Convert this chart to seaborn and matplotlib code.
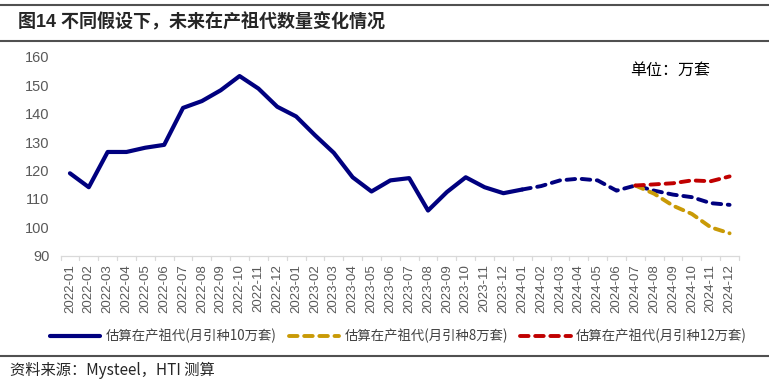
import numpy as np
import pandas as pd
import matplotlib
matplotlib.use("Agg")
import matplotlib.pyplot as plt
from matplotlib.lines import Line2D
import seaborn as sns

months = [f"{y}-{m:02d}" for y in (2022, 2023, 2024) for m in range(1, 13)]

actual = [119, 114.1, 126.5, 126.5, 128, 129, 142, 144.4, 148.2, 153.2, 148.8, 142.4,
          139, 132.4, 126.2, 117.6, 112.6, 116.5, 117.3, 105.9, 112.4, 117.6, 114.1, 112,
          113.3]
est10 = [113.3, 114.5, 116.5, 117.1, 116.5, 112.9, 114.7, 112.9, 111.5, 110.6, 108.5, 107.9]
est8 = [114.7, 111.8, 107.6, 104.7, 100.0, 97.9]
est12 = [114.7, 115.1, 115.5, 116.5, 116.2, 117.9]

lab10 = "估算在产祖代(月引种10万套)"
lab8 = "估算在产祖代(月引种8万套)"
lab12 = "估算在产祖代(月引种12万套)"

n = len(months)
s_actual = pd.Series(actual + [np.nan] * (n - len(actual)))
s10 = pd.Series([np.nan] * (n - len(est10)) + est10)
s8 = pd.Series([np.nan] * (n - len(est8)) + est8)
s12 = pd.Series([np.nan] * (n - len(est12)) + est12)
idx = np.arange(n)

sns.set_style("white")
plt.rcParams['font.family'] = ['Liberation Sans', 'Noto Sans CJK SC', 'DejaVu Sans']

fig = plt.figure(figsize=(7.69, 3.84), dpi=100)
ax = fig.add_axes([0.0787, 0.334, 0.961 - 0.0787, 0.8523 - 0.334])

navy = "#00007F"
gold = "#C99A06"
red = "#C00000"

sns.lineplot(x=idx, y=s_actual, ax=ax, color=navy, linewidth=3.0, solid_capstyle='round', solid_joinstyle='round')
sns.lineplot(x=idx, y=s10, ax=ax, color=navy, linewidth=2.8)
sns.lineplot(x=idx, y=s8, ax=ax, color=gold, linewidth=2.8)
sns.lineplot(x=idx, y=s12, ax=ax, color=red, linewidth=2.8)
lines = ax.get_lines()
for ln in lines[1:4]:
    ln.set_linestyle((0, (2.2, 1.7)))
    ln.set_dash_capstyle('round')
lines[2].set_zorder(3)
lines[3].set_zorder(4)

ax.set_xlim(-0.5, n - 0.5)
ax.set_ylim(90, 160)
ax.set_yticks(range(90, 161, 10))
ax.set_xticks(idx)
ax.set_xticklabels(months, rotation=90, fontsize=9.5, color="#595959")
ax.tick_params(axis='x', length=0, pad=6)
ax.tick_params(axis='y', length=0, labelsize=10.5, labelcolor="#595959", pad=8)
for t in np.arange(-0.5, n, 1):
    ax.plot([t, t], [90, 88.6], color="#D9D9D9", lw=0.9, clip_on=False)
ax.set_xlabel("")
ax.set_ylabel("")
for sp in ['top', 'right', 'left']:
    ax.spines[sp].set_visible(False)
ax.spines['bottom'].set_color("#D9D9D9")
ax.spines['bottom'].set_linewidth(0.9)

ax.text(0.958, 0.93, "单位：万套", transform=ax.transAxes, ha='right', va='center',
        fontsize=11.5, family=['Noto Sans CJK SC'], color="#000000")

handles = [
    Line2D([], [], color=navy, lw=3.0, solid_capstyle='round'),
    Line2D([], [], color=gold, lw=2.8, linestyle=(0, (2.2, 1.7)), dash_capstyle='round'),
    Line2D([], [], color=red, lw=2.8, linestyle=(0, (2.2, 1.7)), dash_capstyle='round'),
]
leg = fig.legend(handles, [lab10, lab8, lab12], loc='center', bbox_to_anchor=(0.518, 1 - 336 / 384),
                 ncol=3, frameon=False, handlelength=3.8, columnspacing=0.9, handletextpad=0.4,
                 prop={'family': ['Noto Sans CJK SC'], 'size': 9.6})
for t in leg.get_texts():
    t.set_color("#404040")

fig.text(0.024, 1 - 22 / 384, "图14 不同假设下，未来在产祖代数量变化情况", ha='left', va='center',
         fontsize=13, fontweight='bold', family=['Liberation Sans', 'Noto Sans CJK SC'])
fig.text(0.013, 1 - 370 / 384, "资料来源：Mysteel，HTI 测算", ha='left', va='center',
         fontsize=11, family=['Noto Sans CJK SC'])

for yy in (5, 41, 356):
    fig.add_artist(Line2D([0, 1], [1 - yy / 384, 1 - yy / 384], transform=fig.transFigure,
                          color="#505050", lw=1.5))

fig.savefig("out.png", dpi=100)
